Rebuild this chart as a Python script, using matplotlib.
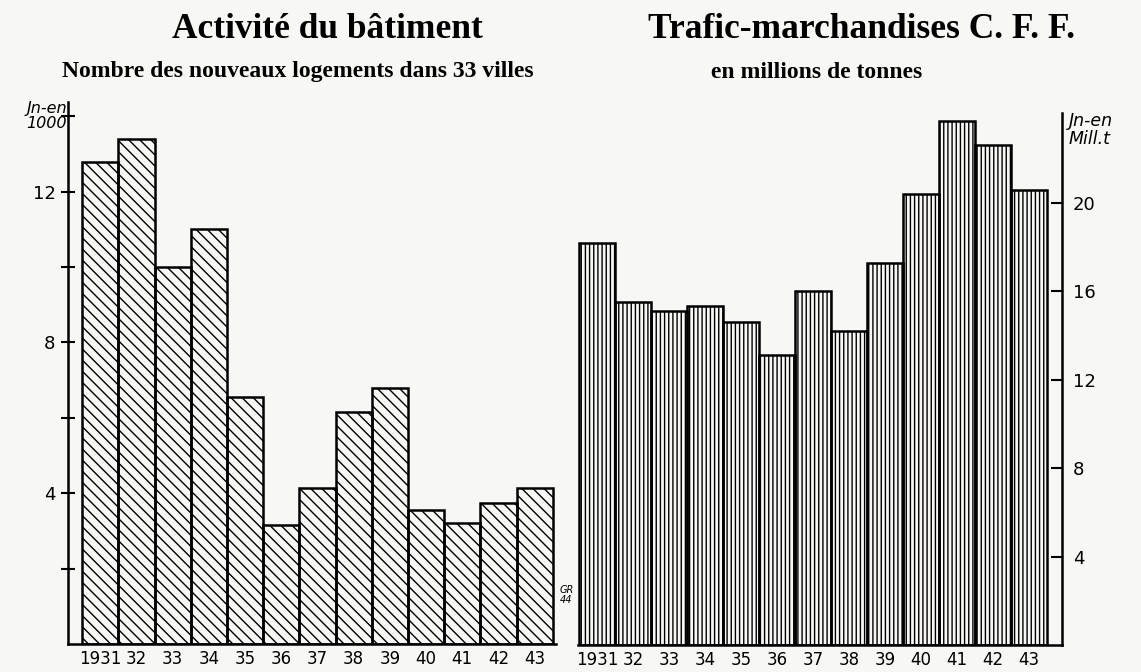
import matplotlib
matplotlib.use("Agg")
import matplotlib.pyplot as plt

# values
years = ['1931', '32', '33', '34', '35', '36', '37', '38', '39', '40', '41', '42', '43']
logements = [12.8, 13.4, 10.0, 11.0, 6.55, 3.15, 4.15, 6.15, 6.8, 3.55, 3.2, 3.75, 4.15]
trafic = [18.2, 15.5, 15.1, 15.35, 14.6, 13.1, 16.0, 14.2, 17.3, 20.4, 23.7, 22.6, 20.6]

left_ticks = [2, 4, 6, 8, 10, 12, 14]
left_labels = ['', '4', '', '8', '', '12', '']
right_ticks = [4, 8, 12, 16, 20]

W, H = 1141, 672
paper = '#f7f7f5'
plt.rcParams['hatch.linewidth'] = 1.0
plt.rcParams['hatch.color'] = 'black'

fig = plt.figure(figsize=(W / 100, H / 100), dpi=100, facecolor=paper)

def px_axes(x0, x1, ytop, ybot):
    return fig.add_axes([x0 / W, 1 - ybot / H, (x1 - x0) / W, (ybot - ytop) / H])

xhand = dict(family='DejaVu Sans', fontsize=12)
yhand = dict(family='DejaVu Sans', fontsize=13)

# left panel: new dwellings
ax1 = px_axes(68, 556, 102, 644)
ax1.set_facecolor('none')
x = list(range(len(years)))
ax1.bar(x, logements, width=1.0, align='edge', facecolor='none',
        edgecolor='black', linewidth=1.8, hatch='\\\\\\')
ax1.set_xlim(-0.39, 13.09)
ax1.set_ylim(0, 14.38)
for s in ['top', 'right']:
    ax1.spines[s].set_visible(False)
for s in ['left', 'bottom']:
    ax1.spines[s].set_linewidth(1.8)
ax1.set_yticks(left_ticks)
ax1.set_yticklabels(left_labels, **yhand)
ax1.tick_params(axis='y', direction='inout', length=10, width=1.5, pad=4)
ax1.set_xticks([i + 0.5 for i in x])
ax1.set_xticklabels(years, **xhand)
ax1.tick_params(axis='x', length=0, pad=4)
ax1.text(-0.42, 14.4, 'Jn-en\n1000', ha='right', va='top', family='DejaVu Sans',
         style='italic', fontsize=11.5, linespacing=1.0)
ax1.text(13.2, 1.3, 'GR\n44', ha='left', va='center', family='DejaVu Sans',
         style='italic', fontsize=7, linespacing=1.0)

# right panel: freight traffic
ax2 = px_axes(578, 1062, 113, 645)
ax2.set_facecolor('none')
ax2.bar(x, trafic, width=1.0, align='edge', facecolor='none',
        edgecolor='black', linewidth=1.8, hatch='||||')
ax2.set_xlim(-0.03, 13.42)
ax2.set_ylim(0, 24.07)
for s in ['top', 'left']:
    ax2.spines[s].set_visible(False)
for s in ['right', 'bottom']:
    ax2.spines[s].set_linewidth(1.8)
ax2.yaxis.tick_right()
ax2.set_yticks(right_ticks)
ax2.set_yticklabels([str(t) for t in right_ticks], **yhand)
ax2.tick_params(axis='y', direction='in', length=8, width=1.5, pad=8)
ax2.set_xticks([i + 0.5 for i in x])
ax2.set_xticklabels(years, **xhand)
ax2.tick_params(axis='x', length=0, pad=4)
ax2.text(13.6, 24.1, 'Jn-en\nMill.t', ha='left', va='top', family='DejaVu Sans',
         style='italic', fontsize=12.5, linespacing=0.95)

# titles
serif = dict(family='Liberation Serif', weight='bold')
fig.text(327 / W, 1 - 30 / H, 'Activité du bâtiment', ha='center', va='center',
         fontsize=25.5, **serif)
fig.text(862 / W, 1 - 30 / H, 'Trafic-marchandises C. F. F.', ha='center', va='center',
         fontsize=25.5, **serif)
fig.text(298 / W, 1 - 72 / H, 'Nombre des nouveaux logements dans 33 villes',
         ha='center', va='center', fontsize=17, **serif)
fig.text(817 / W, 1 - 72 / H, 'en millions de tonnes', ha='center', va='center',
         fontsize=17, **serif)

fig.savefig('out.png', dpi=100, facecolor=paper)
